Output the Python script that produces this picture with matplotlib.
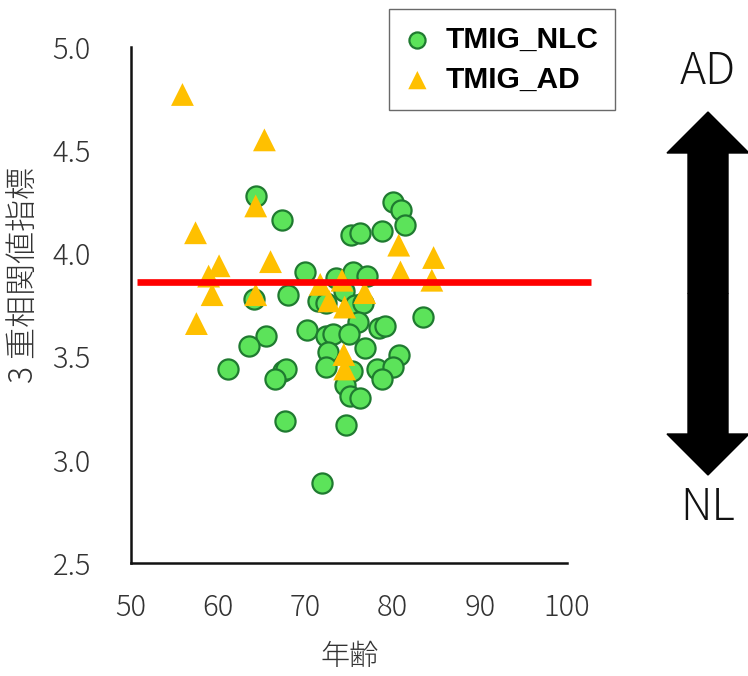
import matplotlib
matplotlib.use("Agg")
import matplotlib.pyplot as plt
from matplotlib.patches import FancyArrow

plt.rcParams['font.family'] = ['Noto Sans CJK JP', 'DejaVu Sans']
plt.rcParams['font.weight'] = 'light'

# Age (x) and triple-correlation index (y) per subject
nlc_age = [64.3, 67.3, 70.0, 64.1, 68.0, 71.4, 72.4, 74.4, 73.5, 75.5,
           77.1, 75.2, 76.3, 78.8, 80.0, 81.0, 81.4, 75.7, 76.6, 76.0,
           83.5, 78.4, 79.1, 70.2, 65.5, 63.5, 72.4, 73.2, 75.0, 76.8,
           80.7, 72.6, 72.4, 75.3, 78.2, 80.1, 78.8, 61.1, 67.4, 67.8,
           66.5, 74.5, 75.1, 76.3, 67.7, 74.7, 71.9]
nlc_index = [4.28, 4.16, 3.91, 3.78, 3.80, 3.77, 3.76, 3.82, 3.88, 3.91,
             3.89, 4.09, 4.10, 4.11, 4.25, 4.21, 4.14, 3.75, 3.76, 3.67,
             3.69, 3.64, 3.65, 3.63, 3.60, 3.55, 3.60, 3.61, 3.61, 3.54,
             3.51, 3.52, 3.45, 3.43, 3.44, 3.45, 3.39, 3.44, 3.43, 3.44,
             3.39, 3.36, 3.31, 3.30, 3.19, 3.17, 2.89]

ad_age = [55.9, 65.3, 64.3, 57.4, 60.1, 66.0, 58.9, 59.3, 64.3, 57.5,
          71.7, 74.2, 76.8, 72.7, 74.5, 74.4, 74.5, 80.7, 84.7, 80.9, 84.5]
ad_index = [4.77, 4.55, 4.23, 4.10, 3.94, 3.96, 3.89, 3.80, 3.80, 3.66,
            3.85, 3.87, 3.81, 3.77, 3.74, 3.51, 3.44, 4.04, 3.98, 3.91, 3.87]

threshold = 3.86
threshold_span = [50.7, 102.7]

xticks = [50, 60, 70, 80, 90, 100]
yticks = [2.5, 3.0, 3.5, 4.0, 4.5, 5.0]

fig = plt.figure(figsize=(7.48, 6.76), dpi=100)
ax = fig.add_axes([131 / 748, 113 / 676, 436 / 748, 516 / 676])

ax.scatter(nlc_age, nlc_index, s=210, marker='o', facecolor='#5CE35A',
           edgecolor='#1F7A30', linewidth=1.6, label='TMIG_NLC', zorder=3)
ax.scatter(ad_age, ad_index, s=270, marker='^', facecolor='#FFC000',
           edgecolor='none', label='TMIG_AD', zorder=4)
ax.plot(threshold_span, [threshold, threshold], color='#FF0000', lw=4.8,
        solid_capstyle='butt', clip_on=False, zorder=5)

ax.set_xlim(50, 100)
ax.set_ylim(2.5, 5.0)
ax.set_xticks(xticks)
ax.set_xticklabels([str(t) for t in xticks])
ax.set_yticks(yticks)
ax.set_yticklabels([f"{t:.1f}" for t in yticks])
ax.tick_params(axis='both', length=0, labelsize=21, colors='#333333')
ax.tick_params(axis='y', pad=29)
ax.tick_params(axis='x', pad=21)

for side in ('top', 'right'):
    ax.spines[side].set_visible(False)
for side in ('left', 'bottom'):
    ax.spines[side].set_linewidth(1.8)
    ax.spines[side].set_color('#111111')

# Axis titles
fig.text(350 / 748, 1 - 657 / 676, '年齢', ha='center', va='center',
         fontsize=21, color='#333333')
fig.text(25 / 748, 1 - 275 / 676, '3 重相関値指標', ha='center', va='center',
         rotation=90, fontsize=23, color='#333333')

leg = ax.legend(loc='upper left', bbox_to_anchor=(389 / 748, 1 - 9 / 676),
                bbox_transform=fig.transFigure, borderaxespad=0,
                frameon=True, fancybox=False, edgecolor='#444444',
                prop={'family': 'Liberation Sans', 'weight': 'bold', 'size': 21.5},
                handletextpad=0.55, borderpad=0.55, labelspacing=0.42,
                handlelength=0.8, markerscale=0.8)
leg.get_frame().set_linewidth(1.0)

# Double-headed arrow with AD / NL labels on the right
arrow_kw = dict(width=0.40, head_width=0.82, head_length=0.41,
                length_includes_head=True, color='black',
                transform=fig.dpi_scale_trans)
fig.patches.append(FancyArrow(7.08, 3.825, 0, 1.815, **arrow_kw))
fig.patches.append(FancyArrow(7.08, 3.825, 0, -1.815, **arrow_kw))
fig.text(708 / 748, 1 - 72 / 676, 'AD', ha='center', va='center',
         fontsize=32, color='#111111')
fig.text(708 / 748, 1 - 508 / 676, 'NL', ha='center', va='center',
         fontsize=32, color='#111111')

fig.savefig('out.png', dpi=100)
